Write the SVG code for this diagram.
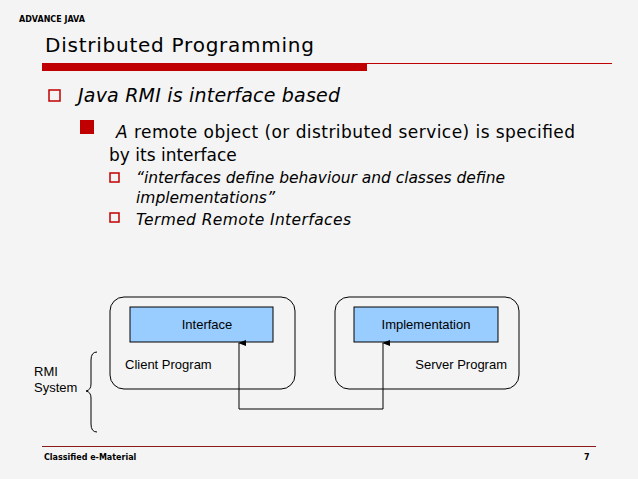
<svg xmlns="http://www.w3.org/2000/svg" width="638" height="479" viewBox="0 0 638 479">
<defs>
<style>
text{font-family:"Liberation Sans",Arial,sans-serif;fill:#000}
.v{font-family:"DejaVu Sans",Verdana,sans-serif}
.box{fill:none;stroke:#000;stroke-width:1}
.inner{fill:#99ccff;stroke:#000;stroke-width:1}
.bul{fill:none;stroke:#c00000;stroke-width:1.5}
.it{font-style:italic}
</style>
<marker id="ah" markerWidth="6" markerHeight="8" refX="3" refY="1" orient="auto-start-reverse" markerUnits="userSpaceOnUse"><path d="M0,8 L3,0 L6,8 Z" fill="#000"/></marker>
</defs>
<rect width="638" height="479" fill="#f4f4f4"/>
<text x="19" y="22" font-size="8" font-weight="bold" class="v">ADVANCE JAVA</text>
<text x="45" y="52" font-size="20" class="v" textLength="269">Distributed Programming</text>
<rect x="42" y="63" width="325" height="8" fill="#c00000"/>
<line x1="367" y1="63.5" x2="612" y2="63.5" stroke="#c00000" stroke-width="1"/>
<rect class="bul" x="49" y="90" width="11" height="11"/>
<text x="78" y="102" font-size="19" class="v it" textLength="262">Java RMI is interface based</text>
<rect x="80" y="120" width="14" height="14" fill="#c00000"/>
<text x="116" y="138" font-size="17" class="v" textLength="459"><tspan class="it">A</tspan> remote object (or distributed service) is specified</text>
<text x="109" y="161" font-size="17" class="v">by its interface</text>
<rect class="bul" x="110" y="173" width="9" height="9"/>
<text x="136" y="183" font-size="15.5" class="v it" textLength="369">“interfaces define behaviour and classes define</text>
<text x="136" y="203" font-size="15.5" class="v it">implementations”</text>
<rect class="bul" x="110" y="213" width="9" height="9"/>
<text x="136" y="225" font-size="15.5" class="v it" textLength="215">Termed Remote Interfaces</text>
<g id="client">
<rect class="box" x="110" y="297" width="185" height="92" rx="14"/>
<text x="125" y="369" font-size="13">Client Program</text>
</g>
<g id="interface">
<rect class="inner" x="130" y="307" width="143" height="35"/>
<text x="207" y="329" font-size="13" text-anchor="middle">Interface</text>
</g>
<g id="server">
<rect class="box" x="335" y="297" width="184" height="92" rx="14"/>
<text x="507" y="369" font-size="13" text-anchor="end">Server Program</text>
</g>
<g id="implementation">
<rect class="inner" x="354" y="307" width="144" height="35"/>
<text x="426" y="329" font-size="13" text-anchor="middle">Implementation</text>
</g>
<g id="rmi">
<text x="34" y="376" font-size="13">RMI</text>
<text x="34" y="392" font-size="13">System</text>
<path d="M97,352 Q91,352 91,360 L91,384 Q91,390 86,391 Q91,392 91,398 L91,424 Q91,432 97,432" fill="none" stroke="#000" stroke-width="1"/>
</g>
<g id="connectors" fill="none" stroke="#000" stroke-width="1">
<path d="M239,343 L239,409 L383,409 L383,343" marker-start="url(#ah)" marker-end="url(#ah)"/>
</g>
<line x1="42" y1="446.5" x2="596" y2="446.5" stroke="#8b1a1a" stroke-width="1"/>
<text x="44" y="460" font-size="8" font-weight="bold" class="v">Classified e-Material</text>
<text x="584" y="460" font-size="8" font-weight="bold" class="v">7</text>
</svg>
